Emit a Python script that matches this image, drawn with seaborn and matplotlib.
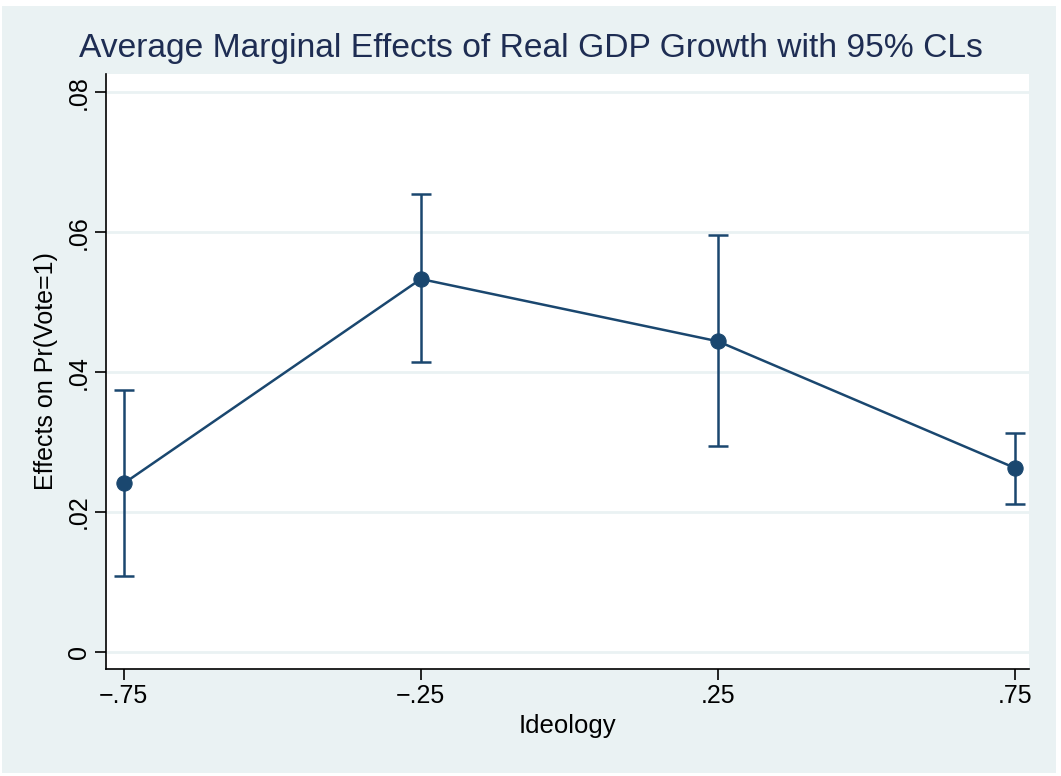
import matplotlib
matplotlib.use("Agg")
import matplotlib.pyplot as plt
import seaborn as sns
import pandas as pd
from matplotlib.patches import Rectangle

# Average marginal effects of real GDP growth by ideology, with 95% confidence limits
ideology = [-0.75, -0.25, 0.25, 0.75]
effect = [0.0241, 0.0533, 0.0444, 0.0263]
lower = [0.0109, 0.0414, 0.0294, 0.0211]
upper = [0.0375, 0.0654, 0.0596, 0.0313]

x_ticks = [-0.75, -0.25, 0.25, 0.75]
x_tick_labels = ["\u2212.75", "\u2212.25", ".25", ".75"]
y_ticks = [0, 0.02, 0.04, 0.06, 0.08]
y_tick_labels = ["0", ".02", ".04", ".06", ".08"]

df = pd.DataFrame({"Ideology": ideology, "effect": effect, "lo": lower, "hi": upper})

navy = "#1a476f"
bg = "#eaf2f3"

sns.set_theme(style="white")
plt.rcParams["font.family"] = ["Liberation Sans", "DejaVu Sans"]

fig = plt.figure(figsize=(10.61, 7.76), dpi=100)
fig.patch.set_facecolor("white")
fig.patches.append(Rectangle((2 / 1061, 3 / 776), 1054 / 1061, 767 / 776,
                             transform=fig.transFigure, facecolor=bg,
                             edgecolor="none", zorder=-10))

ax = fig.add_axes([106 / 1061, 1 - 669 / 776, 923 / 1061, 595 / 776])
ax.set_facecolor("white")

# horizontal grid
for yt in y_ticks:
    ax.axhline(yt, color=bg, lw=2, zorder=0)

# confidence intervals
yerr = [df["effect"] - df["lo"], df["hi"] - df["effect"]]
ax.errorbar(df["Ideology"], df["effect"], yerr=yerr, fmt="none",
            ecolor=navy, elinewidth=1.8, capsize=7, capthick=1.8, zorder=2)

# point estimates joined by a line
sns.lineplot(data=df, x="Ideology", y="effect", ax=ax, color=navy, lw=1.8,
             marker="o", markersize=11, markeredgecolor=navy,
             markerfacecolor=navy, zorder=3)

ax.set_xlim(-0.780, 0.7736)
ax.set_ylim(-0.00243, 0.0826)

ax.set_xticks(x_ticks)
ax.set_xticklabels(x_tick_labels, fontsize=18, color="black")
ax.set_yticks(y_ticks)
ax.set_yticklabels(y_tick_labels, fontsize=18, rotation=90, va="center",
                   color="black")

ax.tick_params(axis="both", which="major", direction="out", length=8,
               width=1.2, color="black", left=True, bottom=True, pad=3)

for side in ["top", "right"]:
    ax.spines[side].set_visible(False)
for side in ["left", "bottom"]:
    ax.spines[side].set_color("black")
    ax.spines[side].set_linewidth(1.2)

ax.set_xlabel("Ideology", fontsize=18.5, labelpad=4, color="black")
ax.set_ylabel("Effects on Pr(Vote=1)", fontsize=18, labelpad=6, color="black")

fig.text(531 / 1061, 1 - 48 / 776,
         "Average Marginal Effects of Real GDP Growth with 95% CLs",
         ha="center", va="center", fontsize=24.2, color="#1e2d53")

fig.savefig("out.png", dpi=100, facecolor=fig.get_facecolor())
